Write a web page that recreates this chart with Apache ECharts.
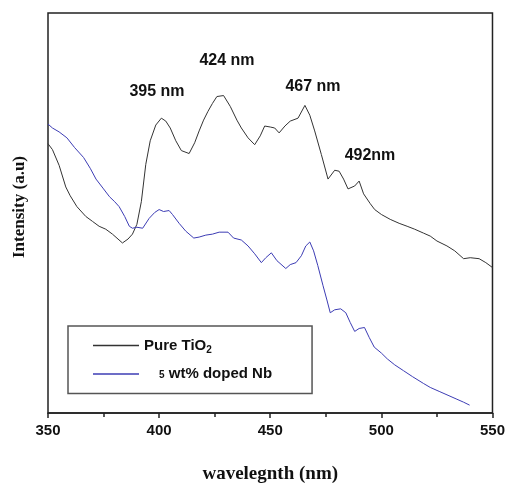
<!DOCTYPE html>
<html>
<head>
<meta charset="utf-8">
<script src="https://cdn.jsdelivr.net/npm/echarts@6/dist/echarts.min.js"></script>
<style>
html, body { margin: 0; padding: 0; background: #fff; }
#chart { width: 508px; height: 489px; }
</style>
</head>
<body>
<div id="chart"></div>
<script>
// wavelength (nm) / intensity (a.u.)
const pureWl = [350, 352, 355, 358, 360, 363, 367, 370, 373, 376, 379, 381.5, 383.5, 386, 388, 390, 392, 394, 396, 398.5, 401, 403, 405, 407.5, 410, 413.5, 416, 418, 420, 422, 424, 426, 429, 432, 435, 437, 440, 443, 445.5, 447.5, 450, 452, 454, 456.6, 459, 462.5, 465.6, 467.8, 470, 473, 476, 479, 481, 483, 485, 488, 490, 492, 495, 497, 500, 504, 508, 511.6, 515, 519, 522, 525, 529.5, 533, 537, 540, 544, 547, 550];
const pureVal = [274, 268, 252, 230, 221, 210, 200, 195, 190, 187, 182, 177, 173, 177, 182, 192, 215, 253, 277, 293, 300, 297, 290, 277, 267, 264, 275, 287, 298, 307, 315, 322, 323, 312, 298, 290, 280, 273, 282, 292, 291, 290, 285, 292, 297, 300, 313, 303, 287, 263, 238, 247, 246, 238, 228, 231, 236, 223, 213, 207, 202, 197, 193, 190, 187, 183, 180, 175, 170, 165, 157, 158, 157, 153, 148];

const nbWl = [350, 352, 355, 358.5, 362, 366, 369, 371.6, 375, 377.7, 380, 382, 384.5, 386.6, 388, 390, 392.6, 395.5, 398, 400, 402, 404.5, 406, 409, 412, 415.6, 418, 421, 424, 427, 431, 433.5, 437, 440, 443, 446, 448, 450.5, 453, 457, 459, 461.6, 464, 466, 467.8, 469.5, 471.4, 473.7, 475.5, 477, 479, 481.7, 484, 486, 488, 490, 492.4, 494.5, 496.8, 500, 502.7, 506, 510, 514, 519, 522, 526, 530, 534, 537, 539.7];
const nbVal = [294, 290, 286, 280, 270, 260, 249, 238, 228, 220, 215, 210, 200, 190, 188, 189, 188, 198, 204, 207, 205, 206, 202, 193, 185, 178, 179, 181, 182, 184, 184, 178, 176, 170, 162, 153, 158, 163, 155, 147, 151, 153, 160, 170, 174, 165, 150, 130, 115, 102, 105, 106, 102, 92, 83, 86, 87, 77, 67, 61, 55, 49, 43, 37, 30, 26, 22, 18, 14, 11, 8];

const xTicks = [350, 400, 450, 500, 550];
const peakLabels = ['395 nm', '424 nm', '467 nm', '492nm'];

const zip = (xs, ys) => xs.map((x, i) => [x, ys[i]]);

const myChart = echarts.init(document.getElementById('chart'));

const peakPos = [[157, 92], [227, 61], [313, 87], [370, 156]];

const option = {
    animation: false,
    grid: {
        left: 48,
        right: 12,
        top: 13,
        bottom: 69,
        show: true,
        borderColor: '#222',
        borderWidth: 1.5,
    },
    legend: {
        orient: 'vertical',
        left: 68,
        top: 326,
        padding: [12, 40, 12, 25],
        borderColor: '#555',
        borderWidth: 1.5,
        icon: 'rect',
        itemWidth: 46,
        itemHeight: 1.3,
        itemGap: 11,
        data: ['Pure TiO2', '5 wt% doped Nb'],
        formatter: (name) => name === 'Pure TiO2' ? '{a|Pure TiO}{s|2}' : '{g|5}{a| wt% doped Nb}',
        textStyle: {
            rich: {
                a: { fontFamily: 'Liberation Sans', fontWeight: 'bold', fontSize: 15, color: '#111' },
                s: { fontFamily: 'Liberation Sans', fontWeight: 'bold', fontSize: 10, color: '#111', padding: [10, 0, 0, 0] },
                g: { fontFamily: 'Liberation Sans', fontWeight: 'bold', fontSize: 10, color: '#111', padding: [2, 0, 0, 15] },
            },
        },
    },
    xAxis: {
        type: 'value',
        min: 350,
        max: 550,
        interval: 50,
        name: 'wavelegnth (nm)',
        nameLocation: 'middle',
        nameGap: 52,
        nameTextStyle: { fontFamily: 'Liberation Serif', fontWeight: 'bold', fontSize: 19, color: '#111' },
        axisLine: { lineStyle: { color: '#222', width: 1.5 } },
        axisTick: { inside: false, length: 5, lineStyle: { color: '#222', width: 1.5 } },
        minorTick: { show: true, splitNumber: 2, length: 4, lineStyle: { color: '#222', width: 1.5 } },
        splitLine: { show: false },
        axisLabel: {
            margin: 10,
            fontFamily: 'Liberation Sans',
            fontWeight: 'bold',
            fontSize: 15,
            color: '#111',
            formatter: (v) => xTicks.includes(v) ? String(v) : '',
        },
    },
    yAxis: {
        type: 'value',
        min: 0,
        max: 407,
        axisLine: { show: false },
        axisTick: { show: false },
        axisLabel: { show: false },
        splitLine: { show: false },
    },
    series: [
        {
            name: 'Pure TiO2',
            type: 'line',
            symbol: 'none',
            data: zip(pureWl, pureVal),
            lineStyle: { color: '#333', width: 1 },
            itemStyle: { color: '#333' },
        },
        {
            name: '5 wt% doped Nb',
            type: 'line',
            symbol: 'none',
            data: zip(nbWl, nbVal),
            lineStyle: { color: '#3c3cb4', width: 1 },
            itemStyle: { color: '#3c3cb4' },
        },
    ],
    graphic: [
        {
            type: 'text',
            x: 20,
            y: 207,
            rotation: Math.PI / 2,
            style: {
                text: 'Intensity (a.u)',
                fontFamily: 'Liberation Serif',
                fontWeight: 'bold',
                fontSize: 17,
                fill: '#111',
                align: 'center',
                verticalAlign: 'middle',
            },
        },
    ].concat(peakLabels.map((t, i) => ({
        type: 'text',
        x: peakPos[i][0],
        y: peakPos[i][1],
        style: {
            text: t,
            fontFamily: 'Liberation Sans',
            fontWeight: 'bold',
            fontSize: 16,
            fill: '#111',
            align: 'center',
            verticalAlign: 'middle',
        },
    }))),
};

myChart.setOption(option);
</script>
</body>
</html>
